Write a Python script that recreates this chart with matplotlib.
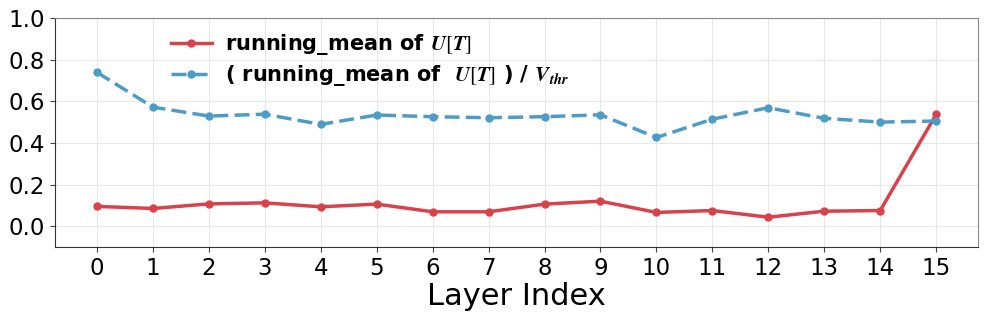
import matplotlib
matplotlib.use('Agg')
import matplotlib.pyplot as plt

# values
layers = list(range(16))
running_mean = [0.095, 0.085, 0.107, 0.112, 0.093, 0.106, 0.069, 0.069,
                0.106, 0.120, 0.066, 0.075, 0.043, 0.072, 0.075, 0.537]
running_mean_norm = [0.739, 0.572, 0.529, 0.538, 0.489, 0.534, 0.526, 0.521,
                     0.526, 0.535, 0.426, 0.514, 0.569, 0.518, 0.500, 0.505]
y_ticks = [0.0, 0.2, 0.4, 0.6, 0.8, 1.0]

plt.rcParams['mathtext.fontset'] = 'stix'

fig, ax = plt.subplots(figsize=(9.87, 3.22), dpi=100)
fig.subplots_adjust(left=0.0557, right=0.991, top=0.944, bottom=0.233)

ax.plot(layers, running_mean, color='#d9414b', lw=2.5, marker='o', ms=5,
        label=r'running_mean of $\mathbfit{U}[\mathbfit{T}]$')
ax.plot(layers, running_mean_norm, color='#4d9cc6', lw=2.5, ls='--', dashes=(4.3, 1.8),
        marker='o', ms=5,
        label=r'( running_mean of  $\mathbfit{U}[\mathbfit{T}]$ ) / $\mathbfit{V_{thr}}$')

ax.set_xlim(-0.75, 15.75)
ax.set_ylim(-0.1, 1.0)
ax.set_xticks(layers)
ax.set_yticks(y_ticks)
ax.tick_params(labelsize=16.5, color='#444444')
ax.set_xlabel('Layer Index', fontsize=22, labelpad=2)
ax.grid(True, color='#e8e8e8', lw=0.8)
ax.set_axisbelow(True)
for s in ['left', 'bottom']:
    ax.spines[s].set_color('#333333')
for s in ['top', 'right']:
    ax.spines[s].set_color('#888888')

ax.legend(loc='upper left', bbox_to_anchor=(0.105, 1.02), frameon=False,
          prop={'size': 15, 'weight': 'bold'}, handlelength=2.0,
          handletextpad=0.6, labelspacing=0.3)

fig.savefig('out.png', dpi=100)
